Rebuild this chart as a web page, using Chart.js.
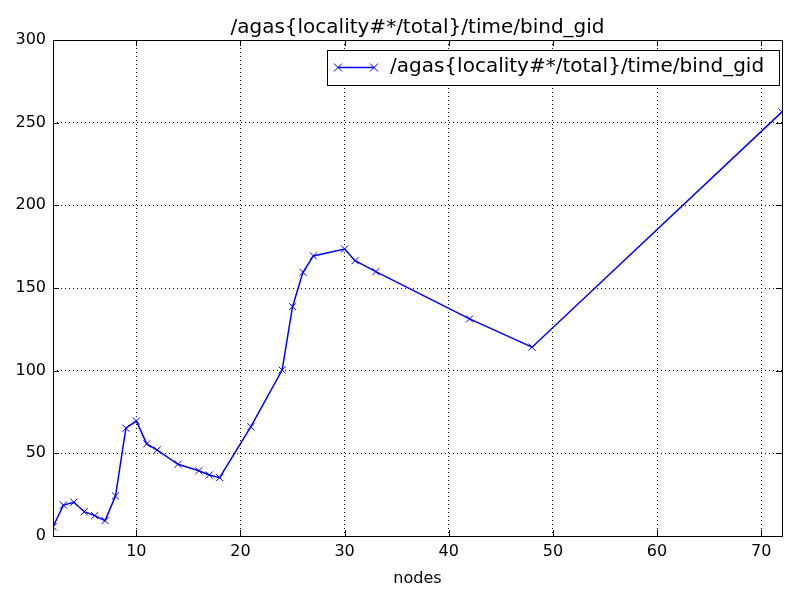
<!DOCTYPE html>
<html lang="en">
    <head>
        <meta charset="utf-8" />
        <title>bind_gid</title>
        <style>
            html, body { margin: 0; padding: 0; background: #fff; }
            #wrap { width: 800px; height: 600px; }
        </style>
    </head>
    <body>
        <div id="wrap"><canvas id="grafico" width="800" height="600"></canvas></div>

        <script src="https://cdn.jsdelivr.net/npm/chart.js@4.4.0/dist/chart.umd.min.js"></script>

        <script>
            // datos
            const nodos = [2, 3, 4, 5, 6, 7, 8, 9, 10, 11, 12, 14, 16, 17, 18, 21, 24, 25, 26, 27, 30, 31, 33, 42, 48, 72];
            const tiempos = [5.6, 18.7, 20.4, 14.7, 12.3, 9.3, 24.2, 65.2, 69.6, 55.7, 52, 43.4, 39.5, 36.9, 35.3, 66.1, 100.4, 138.7, 159.5, 169.4, 173.6, 166.5, 159.9, 131.3, 114.2, 256.5];
            const xTicks = [10, 20, 30, 40, 50, 60, 70];
            const yTicks = [0, 50, 100, 150, 200, 250, 300];
            const titulo = "/agas{locality#*/total}/time/bind_gid";
            const fuente = "'DejaVu Sans', sans-serif";

            // titulo, leyenda, marcas hacia adentro y borde
            const extras = {
                id: "extras",
                afterDraw(chart) {
                    const ctx = chart.ctx;
                    const a = chart.chartArea;
                    const sx = chart.scales.x;
                    const sy = chart.scales.y;
                    ctx.save();
                    ctx.strokeStyle = "#000";
                    ctx.lineWidth = 1;
                    ctx.beginPath();
                    xTicks.forEach(function (t) {
                        const p = Math.round(sx.getPixelForValue(t)) + 0.5;
                        ctx.moveTo(p, a.bottom); ctx.lineTo(p, a.bottom - 6);
                        ctx.moveTo(p, a.top); ctx.lineTo(p, a.top + 6);
                    });
                    yTicks.forEach(function (t) {
                        const p = Math.round(sy.getPixelForValue(t)) + 0.5;
                        ctx.moveTo(a.left, p); ctx.lineTo(a.left + 6, p);
                        ctx.moveTo(a.right, p); ctx.lineTo(a.right - 6, p);
                    });
                    ctx.stroke();
                    ctx.strokeRect(Math.round(a.left) + 0.5, Math.round(a.top) + 0.5, Math.round(a.right - a.left), Math.round(a.bottom - a.top));

                    ctx.fillStyle = "#000";
                    ctx.font = "20px " + fuente;
                    ctx.textAlign = "center";
                    ctx.textBaseline = "alphabetic";
                    ctx.fillText(titulo, (a.left + a.right) / 2, 33);

                    ctx.font = "16px " + fuente;
                    ctx.fillText("nodes", (a.left + a.right) / 2, 583);

                    // leyenda
                    ctx.fillStyle = "#fff";
                    ctx.fillRect(327.5, 50.5, 452, 35);
                    ctx.strokeRect(327.5, 50.5, 452, 35);
                    ctx.strokeStyle = "#0000ff";
                    ctx.lineWidth = 1.5;
                    ctx.beginPath();
                    ctx.moveTo(338, 67.5); ctx.lineTo(374, 67.5);
                    ctx.stroke();
                    ctx.lineWidth = 1;
                    [338, 374].forEach(function (cx) {
                        ctx.beginPath();
                        ctx.moveTo(cx - 4, 63.5); ctx.lineTo(cx + 4, 71.5);
                        ctx.moveTo(cx - 4, 71.5); ctx.lineTo(cx + 4, 63.5);
                        ctx.stroke();
                    });
                    ctx.fillStyle = "#000";
                    ctx.font = "20px " + fuente;
                    ctx.textAlign = "left";
                    ctx.textBaseline = "middle";
                    ctx.fillText(titulo, 390, 67);
                    ctx.restore();
                },
            };

            new Chart(document.getElementById("grafico").getContext("2d"), {
                type: "line",
                data: {
                    datasets: [
                        {
                            label: titulo,
                            data: nodos.map(function (n, i) { return { x: n, y: tiempos[i] }; }),
                            borderColor: "#0000ff",
                            backgroundColor: "#0000ff",
                            borderWidth: 1.5,
                            pointStyle: "crossRot",
                            pointRadius: 5,
                            pointBorderWidth: 1,
                            pointBorderColor: "#0000ff",
                            fill: false,
                            tension: 0,
                        },
                    ],
                },
                options: {
                    responsive: false,
                    animation: false,
                    layout: { padding: { top: 40, right: 18, left: 0, bottom: 0 } },
                    plugins: { legend: { display: false }, title: { display: false }, tooltip: { enabled: false } },
                    scales: {
                        x: {
                            type: "linear",
                            min: 2,
                            max: 72,
                            afterBuildTicks: function (s) { s.ticks = xTicks.map(function (v) { return { value: v }; }); },
                            afterFit: function (s) { s.height = 64; },
                            grid: { color: "#000", lineWidth: 1, drawTicks: false },
                            border: { display: false, dash: [1, 3] },
                            ticks: { color: "#000", font: { family: fuente, size: 16 }, padding: 6, maxRotation: 0 },
                        },
                        y: {
                            min: 0,
                            max: 300,
                            afterBuildTicks: function (s) { s.ticks = yTicks.map(function (v) { return { value: v }; }); },
                            afterFit: function (s) { s.width = 53; },
                            grid: { color: "#000", lineWidth: 1, drawTicks: false },
                            border: { display: false, dash: [1, 3] },
                            ticks: { color: "#000", font: { family: fuente, size: 16 }, padding: 7 },
                        },
                    },
                },
                plugins: [extras],
            });
        </script>
    </body>
</html>
